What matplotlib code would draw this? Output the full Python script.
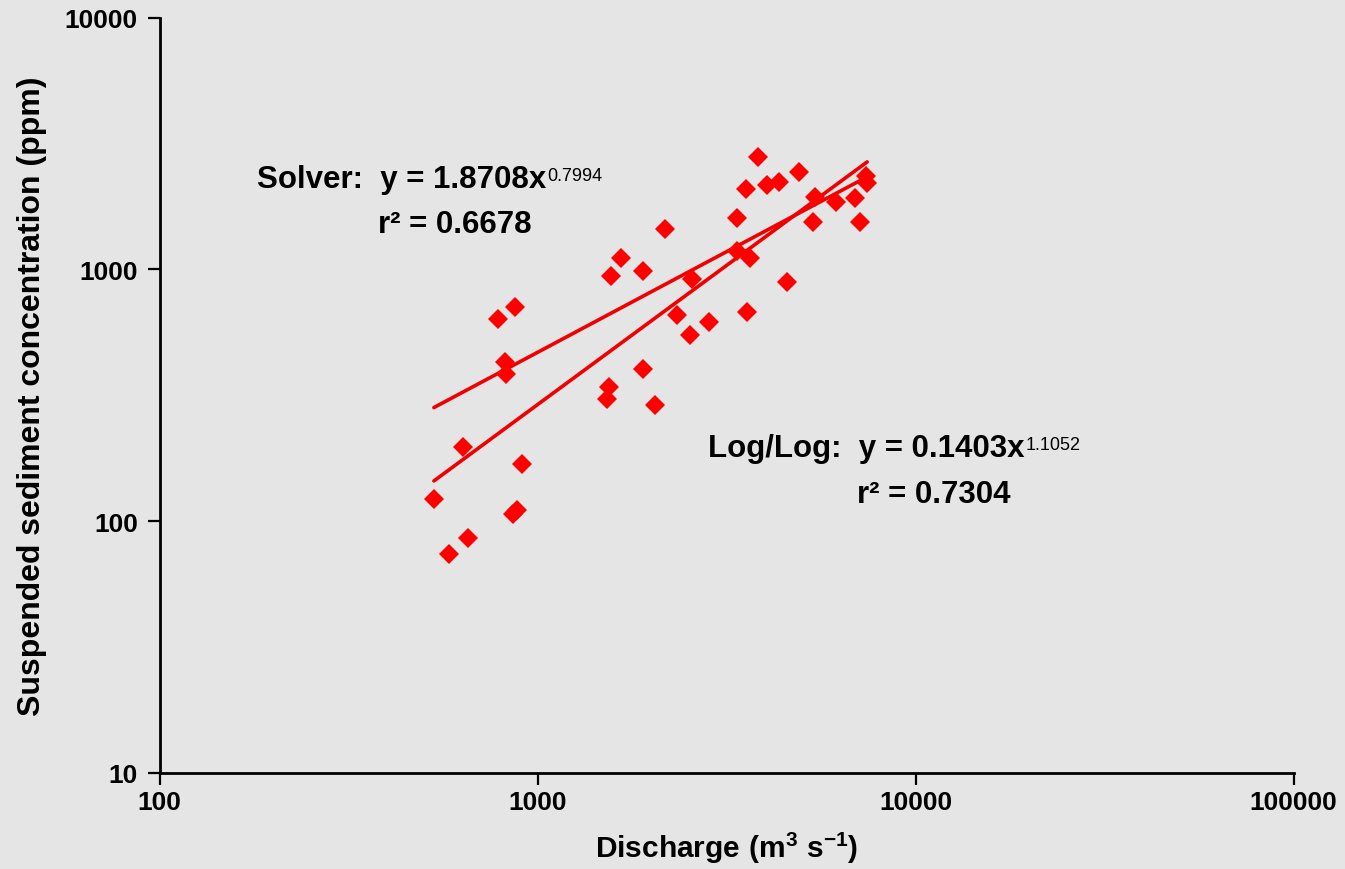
import matplotlib
matplotlib.use("Agg")
import matplotlib.pyplot as plt
import numpy as np

# ---- data ----
discharge = [532, 583, 655, 635, 787, 821, 826, 871, 861, 880, 910,
             1528, 1546, 1564, 1663, 1901, 1901, 2047, 2175, 2339, 2532,
             2562, 2844, 3372, 3372, 3563, 3583, 3648, 3830, 4047, 4355,
             4573, 4920, 5360, 5420, 6165, 6920, 7135, 7400, 7450]
concentration = [122, 74, 86, 197, 634, 427, 383, 706, 107, 111, 168,
                 305, 340, 938, 1107, 982, 401, 288, 1442, 657, 547,
                 912, 616, 1592, 1178, 2075, 675, 1107, 2781, 2153, 2213,
                 888, 2427, 1537, 1931, 1844, 1914, 1537, 2339, 2193]

solver_a, solver_b = 1.8708, 0.7994
loglog_a, loglog_b = 0.1403, 1.1052

x_ticks = [100, 1000, 10000, 100000]
x_ticklabels = ["100", "1000", "10000", "100000"]
y_ticks = [10, 100, 1000, 10000]
y_ticklabels = ["10", "100", "1000", "10000"]

solver_eq = "Solver:  y = 1.8708x"
solver_sup = "0.7994"
solver_r2 = "r\u00b2 = 0.6678"
loglog_eq = "Log/Log:  y = 0.1403x"
loglog_sup = "1.1052"
loglog_r2 = "r\u00b2 = 0.7304"

# ---- style ----
plt.rcParams['font.family'] = ['Liberation Sans', 'DejaVu Sans']
plt.rcParams['mathtext.fontset'] = 'custom'
plt.rcParams['mathtext.rm'] = 'Liberation Sans:bold'
plt.rcParams['mathtext.bf'] = 'Liberation Sans:bold'
plt.rcParams['mathtext.it'] = 'Liberation Sans:bold'

BG = '#e5e5e5'
W, H = 1345, 870
fig = plt.figure(figsize=(W / 100, H / 100), dpi=100, facecolor=BG)
ax = fig.add_axes([159.5 / W, 1 - 774 / H, (1293.5 - 159.5) / W, (774 - 18.5) / H])
ax.set_facecolor(BG)

ax.set_xscale('log')
ax.set_yscale('log')
ax.set_xlim(100, 100000)
ax.set_ylim(10, 10000)

# fitted lines across data range
xl = np.logspace(np.log10(min(discharge)), np.log10(max(discharge)), 50)
ax.plot(xl, solver_a * xl ** solver_b, color='#f00000', lw=2.6, zorder=3, solid_capstyle='round')
ax.plot(xl, loglog_a * xl ** loglog_b, color='#f00000', lw=2.6, zorder=3, solid_capstyle='round')

ax.plot(discharge, concentration, linestyle='none', marker='D', markersize=10.5,
        markerfacecolor='#ff0000', markeredgecolor='#ff0000', markeredgewidth=0, zorder=4)

for side in ['top', 'right']:
    ax.spines[side].set_visible(False)
for side in ['left', 'bottom']:
    ax.spines[side].set_linewidth(2.0)
    ax.spines[side].set_color('black')

ax.xaxis.set_minor_locator(matplotlib.ticker.NullLocator())
ax.yaxis.set_minor_locator(matplotlib.ticker.NullLocator())
ax.set_xticks(x_ticks)
ax.set_xticklabels(x_ticklabels, fontsize=19, fontweight='bold')
ax.set_yticks(y_ticks)
ax.set_yticklabels(y_ticklabels, fontsize=19, fontweight='bold')
ax.tick_params(axis='both', which='major', direction='out', length=8.5, width=1.6,
               color='black')
ax.tick_params(axis='x', pad=3.5)
ax.tick_params(axis='y', pad=7)

# axis labels
fig.text(726.5 / W, 1 - 858 / H, r'$\mathbf{Discharge\ (m^3\ s^{-1})}$',
         ha='center', va='baseline', fontsize=21.5)
fig.text(32 / W, 1 - 396 / H, 'Suspended sediment concentration (ppm)',
         ha='center', va='center', rotation=90, fontsize=23, fontweight='bold')

# equations
def equation(x, y, main, sup):
    t = fig.text(x / W, 1 - y / H, main, ha='left', va='baseline',
                 fontsize=22.5, fontweight='bold')
    ax.annotate(sup, xy=(1, 1), xycoords=t, xytext=(1, -2.5), textcoords='offset points',
                ha='left', va='top', fontsize=13)
    return t

equation(257, 188, solver_eq, solver_sup)
fig.text(378 / W, 1 - 233 / H, solver_r2, ha='left', va='baseline',
         fontsize=22.5, fontweight='bold')
equation(708, 457, loglog_eq, loglog_sup)
fig.text(857 / W, 1 - 503 / H, loglog_r2, ha='left', va='baseline',
         fontsize=22.5, fontweight='bold')

fig.savefig('out.png', dpi=100, facecolor=BG)
